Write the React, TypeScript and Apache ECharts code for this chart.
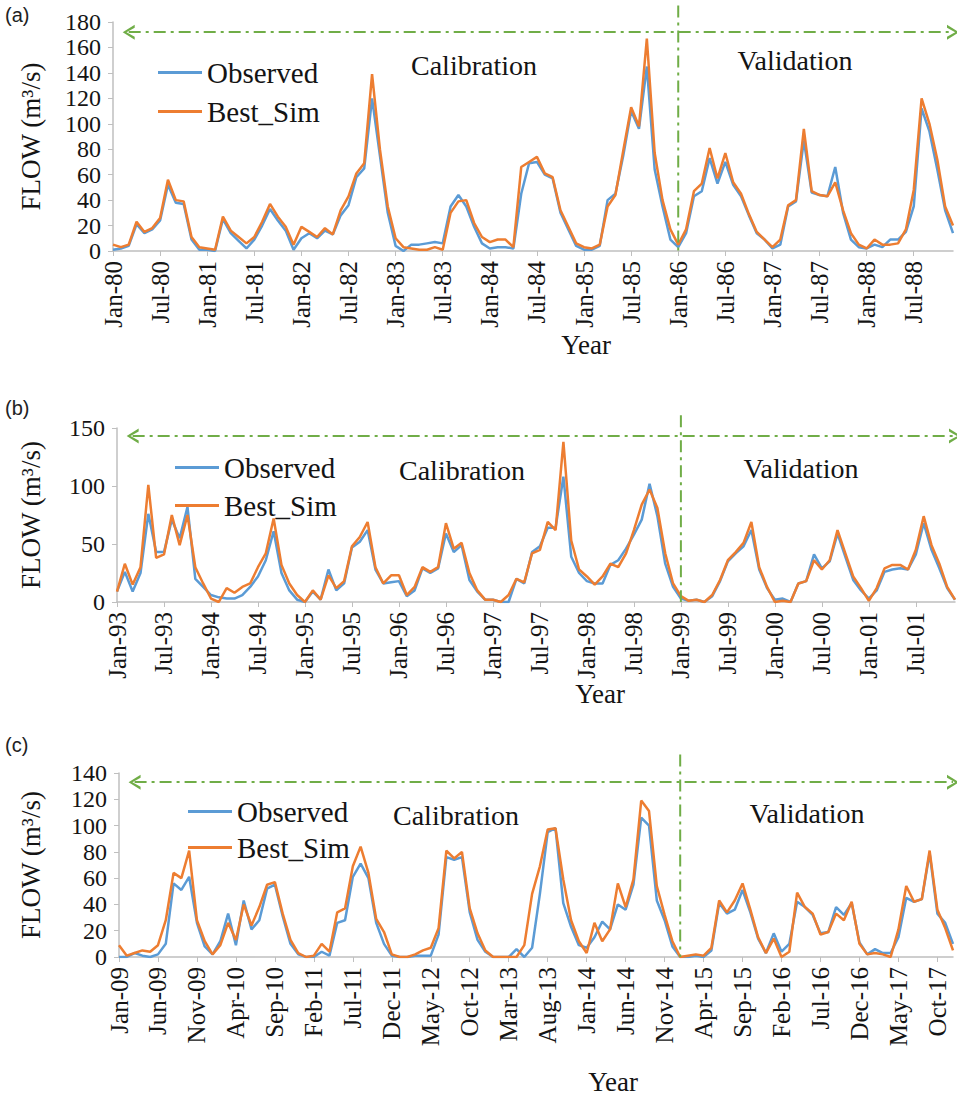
import React, { useEffect, useRef } from "react";
import * as echarts from "echarts";

const MONTHS = ["Jan", "Feb", "Mar", "Apr", "May", "Jun", "Jul", "Aug", "Sep", "Oct", "Nov", "Dec"];
const monthLabels = (startYear: number, years: number): string[] => {
  const out: string[] = [];
  for (let y = 0; y < years; y++) {
    const yy = String((startYear + y) % 100).padStart(2, "0");
    for (const m of MONTHS) out.push(`${m}-${yy}`);
  }
  return out;
};

const categoriesA = monthLabels(1980, 9);
const categoriesB = monthLabels(1993, 9);
const categoriesC = monthLabels(2009, 9);

// Panel (a) 1980-1988
const observedA = [
  1, 2, 4, 21, 14, 17, 24, 52, 38, 37, 9, 1,
  1, 0, 25, 14, 8, 2, 9, 20, 33, 24, 16, 1,
  10, 14, 10, 16, 13, 28, 36, 58, 65, 120, 75, 30,
  4, 0, 5, 5, 6, 7, 6, 35, 44, 35, 19, 6,
  2, 3, 3, 2, 45, 69, 70, 60, 57, 30, 17, 4,
  1, 1, 4, 40, 45, 75, 110, 96, 145, 64, 35, 9,
  3, 14, 43, 47, 73, 53, 70, 52, 43, 28, 14, 9,
  2, 5, 35, 39, 87, 46, 44, 43, 66, 30, 9, 3,
  2, 5, 3, 9, 9, 15, 35, 112, 94, 64, 32, 14,
];
const bestSimA = [
  5, 3, 5, 23, 15, 18, 26, 56, 40, 39, 11, 3,
  2, 1, 27, 16, 11, 6, 11, 23, 37, 27, 19, 5,
  19, 15, 11, 18, 13, 32, 43, 61, 69, 139, 80, 35,
  10, 3, 2, 1, 1, 3, 1, 30, 39, 40, 22, 11,
  7, 9, 9, 3, 66, 70, 74, 61, 58, 32, 19, 6,
  3, 2, 5, 35, 44, 79, 113, 98, 167, 77, 40, 17,
  5, 17, 47, 53, 81, 57, 77, 54, 45, 29, 15, 9,
  3, 9, 36, 40, 96, 47, 44, 43, 54, 32, 14, 5,
  2, 9, 5, 5, 6, 17, 48, 120, 100, 72, 35, 20,
];

// Panel (b) 1993-2001
const observedB = [
  9, 26, 9, 25, 76, 43, 43, 71, 55, 82, 20, 13,
  6, 4, 3, 3, 6, 13, 22, 36, 61, 25, 10, 2,
  0, 9, 2, 28, 10, 16, 47, 52, 62, 28, 16, 17,
  18, 5, 10, 29, 25, 29, 59, 43, 49, 19, 9, 2,
  2, 0, 0, 20, 16, 43, 48, 64, 64, 108, 39, 25,
  18, 16, 16, 32, 36, 46, 58, 71, 102, 74, 33, 13,
  3, 1, 2, 0, 5, 18, 35, 42, 48, 62, 28, 12,
  2, 3, 0, 16, 18, 41, 29, 35, 59, 39, 19, 10,
  3, 10, 26, 28, 29, 28, 41, 68, 45, 29, 12, 2,
];
const bestSimB = [
  9, 33, 15, 30, 101, 38, 41, 75, 49, 75, 30, 16,
  3, 0, 12, 8, 13, 16, 30, 42, 72, 32, 16, 6,
  0, 10, 2, 23, 12, 18, 48, 56, 69, 30, 16, 23,
  23, 6, 13, 30, 26, 30, 68, 46, 51, 25, 10, 2,
  2, 0, 6, 20, 17, 42, 45, 69, 62, 138, 53, 28,
  22, 15, 22, 33, 30, 42, 62, 84, 97, 81, 42, 16,
  5, 1, 2, 0, 6, 19, 36, 43, 51, 69, 30, 13,
  0, 1, 0, 16, 18, 36, 28, 36, 62, 42, 22, 12,
  1, 12, 29, 32, 32, 28, 45, 74, 49, 33, 13, 2,
];

// Panel (c) 2009-2017
const observedC = [
  0, 0, 3, 1, 0, 2, 10, 56, 51, 61, 26, 8,
  2, 12, 33, 9, 43, 21, 28, 52, 55, 31, 10, 2,
  0, 0, 4, 1, 26, 28, 61, 71, 60, 26, 10, 1,
  0, 0, 1, 1, 1, 17, 76, 74, 76, 34, 13, 4,
  0, 0, 0, 6, 0, 7, 48, 95, 98, 41, 23, 9,
  7, 15, 27, 21, 40, 36, 55, 106, 100, 43, 28, 8,
  0, 0, 1, 0, 5, 41, 33, 36, 51, 34, 14, 3,
  18, 4, 10, 42, 38, 32, 18, 19, 38, 32, 41, 11,
  2, 6, 3, 3, 15, 45, 42, 44, 79, 33, 26, 10,
];
const bestSimC = [
  9, 1, 3, 5, 4, 9, 28, 64, 60, 81, 28, 12,
  2, 9, 26, 13, 40, 24, 38, 55, 57, 33, 13, 3,
  0, 1, 10, 4, 34, 37, 69, 84, 64, 29, 19, 2,
  0, 0, 2, 5, 7, 22, 81, 75, 80, 37, 18, 5,
  0, 0, 0, 0, 9, 48, 69, 97, 98, 59, 28, 12,
  3, 26, 12, 21, 56, 38, 59, 119, 111, 54, 32, 12,
  0, 1, 2, 1, 7, 43, 34, 43, 56, 36, 15, 3,
  14, 0, 4, 49, 38, 33, 17, 19, 33, 28, 42, 10,
  2, 3, 2, 0, 21, 54, 42, 44, 81, 36, 22, 5,
];

const SERIF = "Liberation Serif";
const SANS = "Liberation Sans";
const BLUE = "#5B9BD5";
const ORANGE = "#ED7D31";
const GREEN = "#70AD47";
const AXIS_GRAY = "#BFBFBF";
const TEXT = "#141414";
const DASH_DOT = [12, 5, 3, 5];
const CHEVRON = "path://M5,0 L10,10 L8,10 L5,3.2 L2,10 L0,10 Z";

const panels = [
  {
    tag: "(a)", cats: categoriesA, obs: observedA, sim: bestSimA,
    yMax: 180, yInterval: 20, labelInterval: 5,
    arrowValue: 172, arrowFrom: 2, splitIndex: 72, splitTop: 193,
    grid: { left: 113, top: 22, width: 840, height: 229 },
    nameGap: 69, legend: { left: 158, top: 58, gap: 10 },
    tagY: 15, yearPos: [586, 345], calPos: [474, 65], valPos: [795, 60],
  },
  {
    tag: "(b)", cats: categoriesB, obs: observedB, sim: bestSimB,
    yMax: 150, yInterval: 50, labelInterval: 5,
    arrowValue: 143, arrowFrom: 2, splitIndex: 72, splitTop: 161,
    grid: { left: 117, top: 428, width: 838, height: 174 },
    nameGap: 73, legend: { left: 175, top: 453, gap: 9 },
    tagY: 408, yearPos: [600, 694], calPos: [462, 470], valPos: [801, 468],
  },
  {
    tag: "(c)", cats: categoriesC, obs: observedC, sim: bestSimC,
    yMax: 140, yInterval: 20, labelInterval: 4,
    arrowValue: 133, arrowFrom: 2, splitIndex: 72, splitTop: 154,
    grid: { left: 119, top: 773, width: 834, height: 184 },
    nameGap: 75, legend: { left: 188, top: 797, gap: 7 },
    tagY: 745, yearPos: [613, 1082], calPos: [456, 815], valPos: [807, 813],
  },
];

const buildOption = () => ({
  animation: false,
  backgroundColor: "#ffffff",
  textStyle: { fontFamily: SERIF, color: TEXT },
  grid: panels.map((p) => ({ ...p.grid, containLabel: false })),
  legend: panels.map((p) => ({
    orient: "vertical",
    left: p.legend.left,
    top: p.legend.top,
    padding: 0,
    itemGap: p.legend.gap,
    itemWidth: 44,
    itemHeight: 3,
    icon: "rect",
    selectedMode: false,
    data: ["Observed", "Best_Sim"],
    textStyle: { fontFamily: SERIF, fontSize: 29, color: TEXT },
  })),
  xAxis: panels.map((p, k) => ({
    type: "category",
    gridIndex: k,
    data: p.cats,
    boundaryGap: false,
    axisLine: { lineStyle: { color: AXIS_GRAY, width: 1.5 } },
    axisTick: { interval: p.labelInterval, length: 5, lineStyle: { color: AXIS_GRAY } },
    axisLabel: {
      interval: p.labelInterval, rotate: 90, margin: 10, hideOverlap: false,
      fontFamily: SERIF, fontSize: 25, color: TEXT,
    },
    splitLine: { show: false },
  })),
  yAxis: panels.map((p, k) => ({
    type: "value",
    gridIndex: k,
    min: 0,
    max: p.yMax,
    interval: p.yInterval,
    name: "FLOW (m³/s)",
    nameLocation: "middle",
    nameRotate: 90,
    nameGap: p.nameGap,
    nameTextStyle: { fontFamily: SERIF, fontSize: 27, color: TEXT },
    axisLine: { show: true, lineStyle: { color: AXIS_GRAY, width: 1.5 } },
    axisTick: { show: true, length: 5, lineStyle: { color: AXIS_GRAY } },
    axisLabel: {
      margin: 12, fontFamily: SERIF, fontSize: 24, color: TEXT,
      showMinLabel: true, showMaxLabel: true, hideOverlap: false,
    },
    splitLine: { show: false },
  })),
  series: panels.flatMap((p, k) => [
    {
      name: "Observed",
      type: "line",
      xAxisIndex: k,
      yAxisIndex: k,
      data: p.obs,
      showSymbol: false,
      symbol: "none",
      color: BLUE,
      lineStyle: { color: BLUE, width: 2.5 },
      z: 2,
      markLine: {
        silent: true,
        label: { show: false },
        emphasis: { disabled: true },
        lineStyle: { color: GREEN, width: 2, type: DASH_DOT },
        data: [
          [
            { coord: [p.cats[p.arrowFrom], p.arrowValue], symbol: CHEVRON, symbolSize: [15, 12] },
            { coord: [p.cats[p.cats.length - 1], p.arrowValue], symbol: CHEVRON, symbolSize: [15, 12] },
          ],
        ],
      },
    },
    {
      name: "Best_Sim",
      type: "line",
      xAxisIndex: k,
      yAxisIndex: k,
      data: p.sim,
      showSymbol: false,
      symbol: "none",
      color: ORANGE,
      lineStyle: { color: ORANGE, width: 2.5 },
      z: 3,
    },
  ]),
});

export default function App() {
  const ref = useRef<HTMLDivElement>(null);
  useEffect(() => {
    if (!ref.current) return;
    const chart = echarts.init(ref.current, null, { renderer: "svg" });
    chart.setOption(buildOption());

    const elements: any[] = [];
    panels.forEach((p, k) => {
      const bottom = chart.convertToPixel({ gridIndex: k }, [p.cats[p.splitIndex], 0]) as number[];
      const top = chart.convertToPixel({ gridIndex: k }, [p.cats[p.splitIndex], p.splitTop]) as number[];
      elements.push({
        type: "line",
        silent: true,
        z: 10,
        shape: { x1: top[0], y1: top[1], x2: bottom[0], y2: bottom[1] },
        style: { stroke: GREEN, lineWidth: 2, lineDash: DASH_DOT },
      });
      elements.push({
        type: "text", x: 5, y: p.tagY, silent: true,
        style: { text: p.tag, fontFamily: SANS, fontSize: 20, fill: "#222", align: "left", verticalAlign: "middle" },
      });
      elements.push({
        type: "text", x: p.yearPos[0], y: p.yearPos[1], silent: true,
        style: { text: "Year", fontFamily: SERIF, fontSize: 27, fill: TEXT, align: "center", verticalAlign: "middle" },
      });
      elements.push({
        type: "text", x: p.calPos[0], y: p.calPos[1], silent: true,
        style: { text: "Calibration", fontFamily: SERIF, fontSize: 28, fill: TEXT, align: "center", verticalAlign: "middle" },
      });
      elements.push({
        type: "text", x: p.valPos[0], y: p.valPos[1], silent: true,
        style: { text: "Validation", fontFamily: SERIF, fontSize: 28, fill: TEXT, align: "center", verticalAlign: "middle" },
      });
    });
    chart.setOption({ graphic: { elements } });

    return () => chart.dispose();
  }, []);
  return (
    <div
      ref={ref}
      style={{ position: "absolute", left: 0, top: 0, width: 957, height: 1099, background: "#fff" }}
    />
  );
}
